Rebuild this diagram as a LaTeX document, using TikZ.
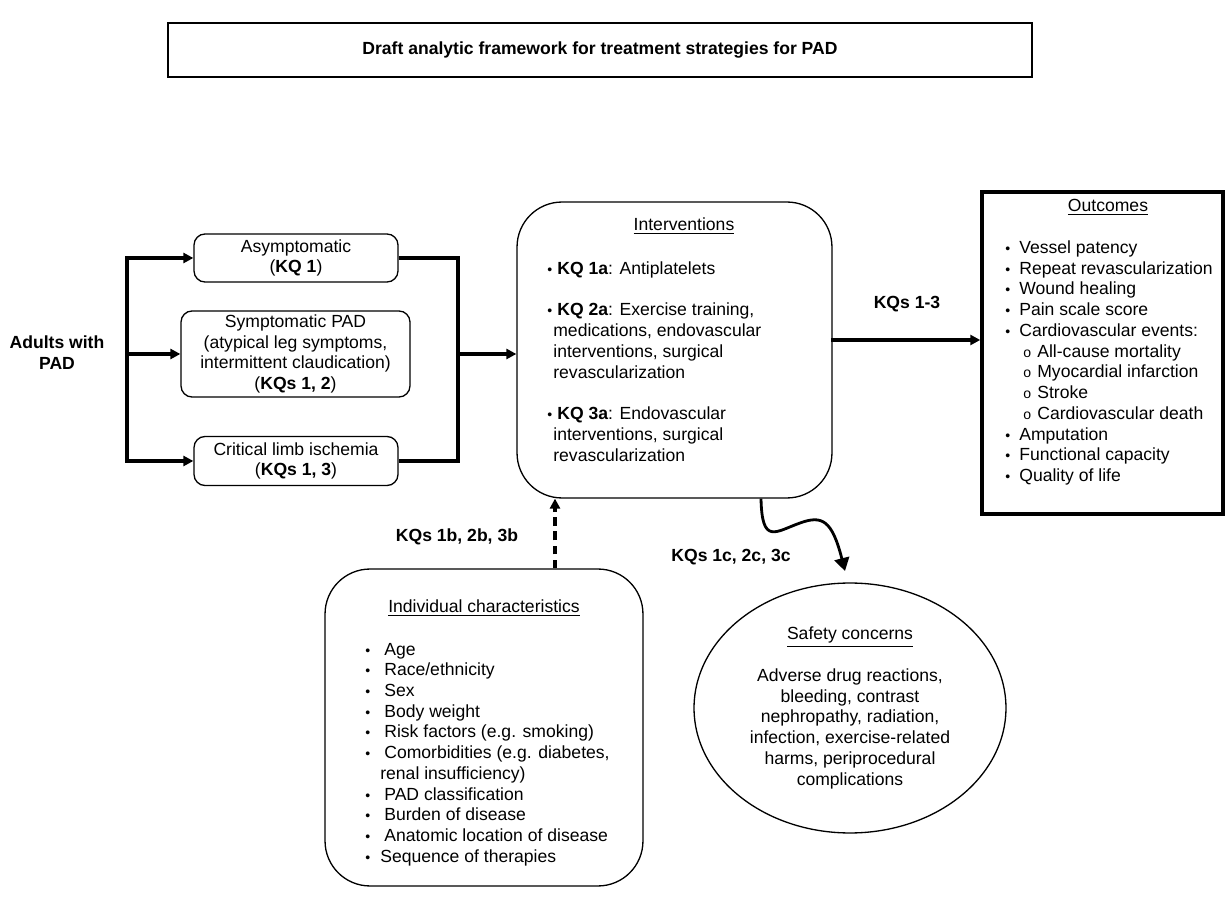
\documentclass[tikz,border=0pt]{standalone}
\usepackage{fontspec}
\setmainfont{Liberation Sans}
\usetikzlibrary{arrows.meta, shapes.geometric}

% list marks
\newcommand{\bul}[1]{\makebox[#1][l]{\footnotesize\textbullet}}
\newcommand{\subb}{\hspace*{0.36cm}\makebox[0.28cm][l]{\footnotesize o}}

\begin{document}
\begin{tikzpicture}[x = 0.02cm, y = -0.02cm, % one unit = one pixel, y down
                > = {Triangle[length=2mm, width=2mm]}, % arrow head style
                font = \fontsize{10}{11.8}\selectfont,
                conn/.style = {line width=2pt, line cap=rect}, % thick connectors
                box/.style = {draw, rounded corners=0.22cm, align=center,
                    line width=0.75pt, inner sep=0pt},
                bigbox/.style = {draw, rounded corners=0.9cm, line width=0.75pt,
                    inner sep=0pt},
                kq/.style = {font=\fontsize{10}{11.8}\selectfont\bfseries},
                lst/.style = {align=left, inner sep=0pt}
            ]

            \useasboundingbox (0,0) rectangle (1225,898);

            \node[draw, line width=1.5pt, minimum width=17.28cm, minimum height=1.08cm,
                kq] (title) at (600,50)
            {Draft analytic framework for treatment strategies for PAD};

            % population
            \node[kq, align=center] (adults) at (57,353) {Adults with\\PAD};
            \node[box, minimum width=4.08cm, minimum height=0.96cm] (asym) at (296,258)
            {Asymptomatic\\(\textbf{KQ 1})};
            \node[box, minimum width=4.58cm, minimum height=1.72cm] (sympt) at (295.5,354)
            {Symptomatic PAD\\(atypical leg symptoms,\\intermittent claudication)\\(\textbf{KQs 1, 2})};
            \node[box, minimum width=4.08cm, minimum height=0.98cm] (cli) at (296,461)
            {Critical limb ischemia\\(\textbf{KQs 1, 3})};

            % interventions
            \node[bigbox, minimum width=6.3cm, minimum height=5.92cm] (interv) at (674.5,350) {};
            \node (intervhead) at (684,226) {\underline{Interventions}};
            \node[lst, anchor=west] (intervlist) at (547,361.5)
            {\bul{0.12cm}\hspace*{0.08cm}\textbf{KQ 1a}: Antiplatelets\\[11.8pt]
             \bul{0.12cm}\hspace*{0.08cm}\textbf{KQ 2a}: Exercise training,\\
             \hspace*{0.12cm}medications, endovascular\\
             \hspace*{0.12cm}interventions, surgical\\
             \hspace*{0.12cm}revascularization\\[11.8pt]
             \bul{0.12cm}\hspace*{0.08cm}\textbf{KQ 3a}: Endovascular\\
             \hspace*{0.12cm}interventions, surgical\\
             \hspace*{0.12cm}revascularization};

            % outcomes
            \node[draw, line width=2pt, minimum width=4.82cm, minimum height=6.44cm,
                inner sep=0pt] (outc) at (1102.5,353) {};
            \node (outchead) at (1108,207) {\underline{Outcomes}};
            \node[lst, anchor=west] (outclist) at (1005,363)
            {\bul{0.28cm}Vessel patency\\
             \bul{0.28cm}Repeat revascularization\\
             \bul{0.28cm}Wound healing\\
             \bul{0.28cm}Pain scale score\\
             \bul{0.28cm}Cardiovascular events:\\
             \subb All-cause mortality\\
             \subb Myocardial infarction\\
             \subb Stroke\\
             \subb Cardiovascular death\\
             \bul{0.28cm}Amputation\\
             \bul{0.28cm}Functional capacity\\
             \bul{0.28cm}Quality of life};

            % individual characteristics
            \node[bigbox, minimum width=6.36cm, minimum height=6.34cm] (indiv) at (484,727.5) {};
            \node (indivhead) at (484,608) {\underline{Individual characteristics}};
            \node[lst, anchor=west] (indivlist) at (365,754.5)
            {\bul{0.38cm}Age\\
             \bul{0.38cm}Race/ethnicity\\
             \bul{0.38cm}Sex\\
             \bul{0.38cm}Body weight\\
             \bul{0.38cm}Risk factors (e.g. smoking)\\
             \bul{0.38cm}Comorbidities (e.g. diabetes,\\
             \hspace*{0.3cm}renal insufficiency)\\
             \bul{0.38cm}PAD classification\\
             \bul{0.38cm}Burden of disease\\
             \bul{0.38cm}Anatomic location of disease\\
             \bul{0.3cm}Sequence of therapies};

            % safety
            \node[draw, ellipse, line width=0.75pt, minimum width=6.24cm, minimum height=5cm,
                align=center, inner sep=0pt] (safety) at (850,708)
            {\underline{Safety concerns}\\[11.8pt]Adverse drug reactions,\\bleeding, contrast\\
             nephropathy, radiation,\\infection, exercise-related\\harms, periprocedural\\complications};

            % connectors
            \coordinate (lt) at (127,258); \coordinate (lm) at (127,354);
            \coordinate (lb) at (127,461);
            \coordinate (rt) at (458,258); \coordinate (rm) at (458,354);
            \coordinate (rb) at (458,461);
            \coordinate (kqa) at (900,340); \coordinate (dsh) at (555,540);
            \coordinate (cvx) at (761,530); \coordinate (cvend) at (845,571);

            \draw[conn] (lt) -- (lb);
            \draw[conn, ->] (lt) -- (asym);
            \draw[conn, ->] (lm) -- (sympt);
            \draw[conn, ->] (lb) -- (cli);
            \draw[conn, line cap=butt] (asym) -- (rt) -- (rb) -- (cli);
            \draw[conn, ->] (rm) -- (interv.west |- rm);

            \draw[conn, ->] (interv.east |- kqa) -- (outc.west |- kqa);
            \node[kq] (kq13) at (907,304) {KQs 1-3};

            \draw[line width=1.8pt, dash pattern=on 5pt off 3pt, ->]
            (indiv.north -| dsh) -- (interv.south -| dsh);
            \node[kq] (kq1b) at (457,537) {KQs 1b, 2b, 3b};

            \draw[line width=1.6pt, -{Triangle[length=2.6mm, width=3mm]}]
            (interv.south -| cvx) .. controls (762,545) and (775,532) .. (800,523)
            .. controls (822,515) and (832,520) .. (cvend);
            \node[kq] (kq1c) at (731,557) {KQs 1c, 2c, 3c};
        \end{tikzpicture}
\end{document}
